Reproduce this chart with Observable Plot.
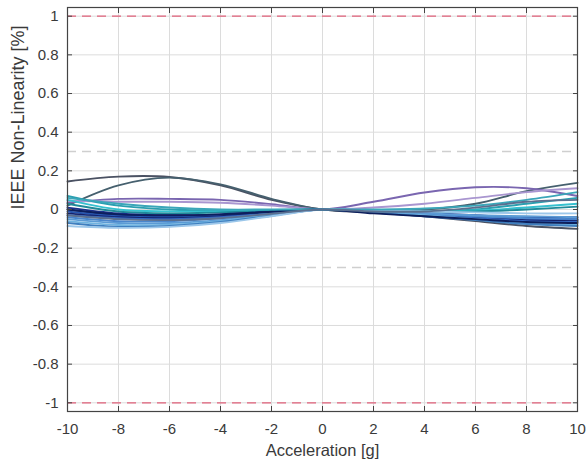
<!DOCTYPE html>
<html><head><meta charset="utf-8">
<script src="https://cdn.jsdelivr.net/npm/d3@7"></script>
<script src="https://cdn.jsdelivr.net/npm/@observablehq/plot@0.6"></script>
<style>body{margin:0;background:#fff;font-family:"Liberation Sans",Arial,sans-serif}</style>
</head><body><div id="chart"></div>
<script>
const accel = [-10,-8,-6,-4,-2,0,2,4,6,8,10];
const xTicks = [-10,-8,-6,-4,-2,0,2,4,6,8,10];
const yTicks = [-1,-0.8,-0.6,-0.4,-0.2,0,0.2,0.4,0.6,0.8,1];
const limitLines = [-1, 1];
const warnLines = [-0.3, 0.3];
const seriesNames = ["s1","s2","s3","s4","s5","s6","s7","s8","s9","s10","s11","s12","s13","s14","s15","s16","s17","s18","s19","s20"];
const seriesColors = ["#4b5263","#46606e","#7a66b0","#a996d0","#2a9fb0","#35c0cf","#1f8a9a","#1a2f8a","#203e9e","#2756b0","#15226b","#3366c0","#4a86cc","#5b9bd5","#6fb3e0","#3f7fbf","#9cc7ea","#0d1f5c","#3aa6b9","#5a6f8f"];
const s1  = [0.145, 0.17, 0.168, 0.125, 0.05, 0, -0.015, -0.035, -0.06, -0.085, -0.10];
const s2  = [0.02, 0.125, 0.165, 0.13, 0.055, 0, -0.005, 0.0, 0.03, 0.095, 0.138];
const s3  = [0.035, 0.055, 0.055, 0.05, 0.028, 0, 0.04, 0.088, 0.115, 0.11, 0.07];
const s4  = [0.045, 0.04, 0.04, 0.035, 0.02, 0, 0.01, 0.03, 0.06, 0.09, 0.11];
const s5  = [0.07, 0.02, 0.0, -0.005, -0.002, 0, -0.005, -0.01, 0.0, 0.03, 0.06];
const s6  = [0.05, 0.0, -0.01, -0.01, -0.005, 0, -0.005, -0.01, -0.005, 0.01, 0.03];
const s7  = [0.03, -0.01, -0.02, -0.015, -0.007, 0, -0.005, -0.012, -0.01, 0.0, 0.015];
const s8  = [0.01, -0.02, -0.03, -0.025, -0.012, 0, -0.008, -0.018, -0.03, -0.04, -0.04];
const s9  = [0.0, -0.03, -0.035, -0.03, -0.015, 0, -0.01, -0.02, -0.035, -0.045, -0.05];
const s10 = [-0.01, -0.035, -0.04, -0.032, -0.016, 0, -0.012, -0.025, -0.04, -0.05, -0.055];
const s11 = [-0.02, -0.04, -0.045, -0.035, -0.018, 0, -0.013, -0.028, -0.045, -0.055, -0.06];
const s12 = [-0.03, -0.045, -0.05, -0.04, -0.02, 0, -0.015, -0.03, -0.045, -0.06, -0.065];
const s13 = [-0.04, -0.06, -0.06, -0.045, -0.022, 0, -0.012, -0.025, -0.035, -0.045, -0.05];
const s14 = [-0.05, -0.07, -0.07, -0.055, -0.027, 0, -0.01, -0.02, -0.03, -0.035, -0.04];
const s15 = [-0.06, -0.08, -0.078, -0.06, -0.03, 0, -0.015, -0.03, -0.05, -0.07, -0.08];
const s16 = [-0.07, -0.09, -0.085, -0.065, -0.032, 0, -0.016, -0.035, -0.055, -0.075, -0.085];
const s17 = [-0.085, -0.095, -0.09, -0.07, -0.035, 0, -0.005, -0.01, -0.015, -0.02, -0.02];
const s18 = [0.0, -0.025, -0.03, -0.025, -0.012, 0, -0.02, -0.035, -0.05, -0.065, -0.07];
const s19 = [0.06, 0.03, 0.01, 0.0, 0.0, 0, 0.0, 0.005, 0.02, 0.05, 0.09];
const s20 = [-0.03, -0.05, -0.055, -0.045, -0.022, 0, -0.01, -0.01, 0.01, 0.04, 0.05];
const seriesValues = [s1,s2,s3,s4,s5,s6,s7,s8,s9,s10,s11,s12,s13,s14,s15,s16,s17,s18,s19,s20];

const rows = [];
seriesValues.forEach((vals, i) => vals.forEach((v, j) => rows.push({s: seriesNames[i], x: accel[j], y: v})));

const fmt = d => String(+(+d).toFixed(1));
const blank = () => "";
const chart = Plot.plot({
  width: 588, height: 466,
  marginLeft: 67, marginRight: 11, marginTop: 7, marginBottom: 55,
  style: {fontFamily: "Liberation Sans, Arial, sans-serif", fontSize: "15px", color: "#3a3a3a"},
  x: {domain: [-10, 10]},
  y: {domain: [-1.045, 1.045]},
  color: {domain: seriesNames, range: seriesColors},
  marks: [
    Plot.gridX(xTicks, {stroke: "#dcdcdc", strokeOpacity: 1}),
    Plot.gridY(yTicks, {stroke: "#dcdcdc", strokeOpacity: 1}),
    Plot.ruleY(warnLines, {stroke: "#cfcfcf", strokeDasharray: "9,6", strokeWidth: 1.3}),
    Plot.ruleY(limitLines, {stroke: "#e0607a", strokeDasharray: "9,6", strokeWidth: 1.3}),
    Plot.line(rows, {x: "x", y: "y", z: "s", stroke: "s", strokeWidth: 1.9, curve: "catmull-rom"}),
    Plot.axisX(xTicks, {tickSize: -5, tickPadding: 17, tickFormat: fmt, fontSize: 15, label: null, stroke: "#444"}),
    Plot.text(["Acceleration [g]"], {frameAnchor: "bottom", dy: 44, fontSize: 16.5, fill: "#3a3a3a"}),
    Plot.axisX(xTicks, {anchor: "top", tickSize: -5, tickFormat: blank, label: null, stroke: "#444"}),
    Plot.axisY(yTicks, {tickSize: -5, tickPadding: 14, tickFormat: fmt, fontSize: 15, label: null, stroke: "#444"}),
    Plot.text(["IEEE Non-Linearity [%]"], {frameAnchor: "left", dx: -49, rotate: -90, fontSize: 18, fill: "#3a3a3a"}),
    Plot.axisY(yTicks, {anchor: "right", tickSize: -5, tickFormat: blank, label: null, stroke: "#444"}),
    Plot.frame({stroke: "#444", strokeWidth: 1.2})
  ]
});
document.getElementById("chart").appendChild(chart);
</script></body></html>
